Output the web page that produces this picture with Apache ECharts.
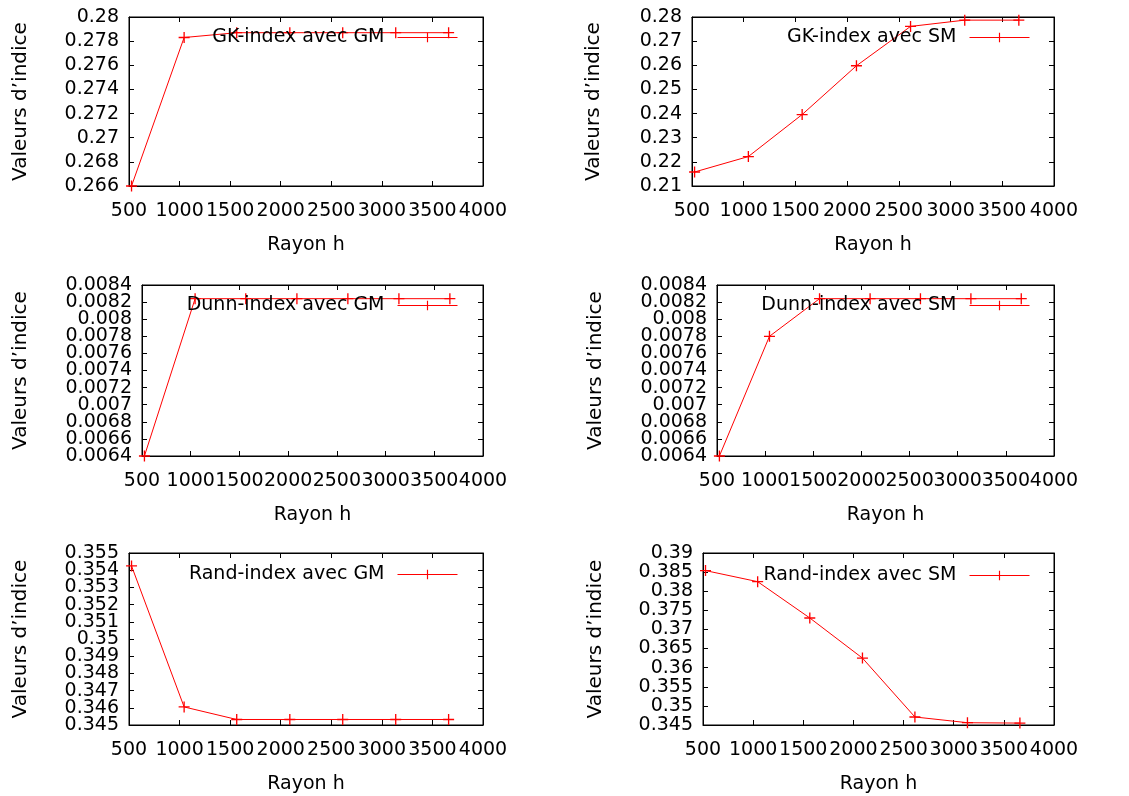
<!DOCTYPE html>
<html>
<head>
<meta charset="utf-8">
<script src="https://cdn.jsdelivr.net/npm/echarts@6/dist/echarts.min.js"></script>
<style>html,body{margin:0;padding:0;background:#fff}#c{width:1129px;height:796px}</style>
</head>
<body>
<div id="c"></div>
<script>
// ---- data ----
const xValues = [525, 1045, 1565, 2090, 2613, 3137, 3660];
const gkGM   = [0.2660, 0.2783, 0.2787, 0.2787, 0.2787, 0.2787, 0.2787];
const gkSM   = [0.2158, 0.2222, 0.2396, 0.2598, 0.2761, 0.2787, 0.2787];
const dunnGM = [0.00640, 0.00824, 0.00824, 0.00824, 0.00824, 0.00824, 0.00824];
const dunnSM = [0.00640, 0.00780, 0.00824, 0.00824, 0.00824, 0.00824, 0.00824];
const randGM = [0.35425, 0.34605, 0.34532, 0.34532, 0.34532, 0.34532, 0.34532];
const randSM = [0.3854, 0.3825, 0.3730, 0.3625, 0.3471, 0.3456, 0.3455];
const seriesNames = ['GK-index avec GM','GK-index avec SM','Dunn-index avec GM','Dunn-index avec SM','Rand-index avec GM','Rand-index avec SM'];
const seriesData = [gkGM, gkSM, dunnGM, dunnSM, randGM, randSM];
const xTicks = {min: 500, max: 4000, interval: 500};
const yRanges = [
  {min: 0.266, max: 0.28, interval: 0.002},
  {min: 0.21, max: 0.28, interval: 0.01},
  {min: 0.0064, max: 0.0084, interval: 0.0002},
  {min: 0.0064, max: 0.0084, interval: 0.0002},
  {min: 0.345, max: 0.355, interval: 0.001},
  {min: 0.345, max: 0.39, interval: 0.005}
];
const xTitle = 'Rayon h';
const yTitle = 'Valeurs d’indice';

// ---- layout ----
const grids = [
  {left: 129, top: 17, width: 354, height: 169, yGap: 98, legRight: 671, legTop: 28},
  {left: 692, top: 17, width: 362, height: 169, yGap: 88, legRight: 99, legTop: 28},
  {left: 142, top: 285, width: 341, height: 171, yGap: 111, legRight: 671, legTop: 296},
  {left: 717, top: 285, width: 337, height: 171, yGap: 111, legRight: 99, legTop: 296},
  {left: 129, top: 553, width: 354, height: 172, yGap: 98, legRight: 671, legTop: 565},
  {left: 703, top: 553, width: 351, height: 172, yGap: 97, legRight: 99, legTop: 566}
];
const FONT = "'DejaVu Sans', sans-serif";
const FS = 19;
const plus = 'path://M4.4,0 h1.2 v4.4 h4.4 v1.2 h-4.4 v4.4 h-1.2 v-4.4 h-4.4 v-1.2 h4.4 z';

const option = {
  animation: false,
  backgroundColor: '#fff',
  textStyle: {fontFamily: FONT, color: '#000'},
  grid: [], xAxis: [], yAxis: [], series: [], legend: []
};
const axLine = {show: true, lineStyle: {color: '#000', width: 1}};
const tick = {show: true, inside: true, length: 5, lineStyle: {color: '#000', width: 1}};
const nameStyle = {color: '#000', fontFamily: FONT};

// label-only axes: labels split by parity so neighbouring labels never collide
function labelAxes(gridIndex, position, range, margin) {
  const last = Math.round((range.max - range.min) / range.interval);
  return [0, 1].map(par => ({
    type: 'value', gridIndex, position, ...range,
    axisLine: {show: false}, axisTick: {show: false}, splitLine: {show: false},
    axisLabel: {fontSize: FS, color: '#000', fontFamily: FONT, margin,
      showMinLabel: par === 0, showMaxLabel: (last % 2) === par,
      formatter: (v, idx) => (idx % 2 === par ? String(+v.toPrecision(6)) : '')}
  }));
}

grids.forEach((g, i) => {
  option.grid.push({left: g.left, top: g.top, width: g.width, height: g.height,
    show: true, borderColor: '#000', borderWidth: 1, containLabel: false});
  // x axes: [ticks+name bottom, ticks top, labels even, labels odd]
  option.xAxis.push({type: 'value', gridIndex: i, position: 'bottom', ...xTicks,
    axisLine: axLine, axisTick: tick, splitLine: {show: false}, axisLabel: {show: false},
    name: xTitle, nameLocation: 'middle', nameGap: 50,
    nameTextStyle: {fontSize: FS, ...nameStyle}});
  option.xAxis.push({type: 'value', gridIndex: i, position: 'top', ...xTicks,
    axisLine: axLine, axisTick: tick, splitLine: {show: false}, axisLabel: {show: false}});
  option.xAxis.push(...labelAxes(i, 'bottom', xTicks, 16));
  // y axes: [ticks+name left, ticks right, labels even, labels odd]
  option.yAxis.push({type: 'value', gridIndex: i, position: 'left', ...yRanges[i],
    axisLine: axLine, axisTick: tick, splitLine: {show: false}, axisLabel: {show: false},
    name: yTitle, nameLocation: 'middle', nameGap: g.yGap, nameRotate: 90,
    nameTextStyle: {fontSize: 20, ...nameStyle}});
  option.yAxis.push({type: 'value', gridIndex: i, position: 'right', ...yRanges[i],
    axisLine: axLine, axisTick: tick, splitLine: {show: false}, axisLabel: {show: false}});
  option.yAxis.push(...labelAxes(i, 'left', yRanges[i], 10));

  option.series.push({
    name: seriesNames[i], type: 'line', xAxisIndex: 4 * i, yAxisIndex: 4 * i,
    data: xValues.map((x, k) => [x, seriesData[i][k]]),
    symbol: plus, symbolSize: 11, showAllSymbol: true,
    lineStyle: {color: '#ff0000', width: 1}, itemStyle: {color: '#ff0000', borderWidth: 0}
  });
  option.legend.push({data: [seriesNames[i]], right: g.legRight, top: g.legTop,
    align: 'right', orient: 'vertical', padding: 0, itemWidth: 60, itemHeight: 12,
    selectedMode: false, lineStyle: {width: 1, color: '#ff0000'},
    itemStyle: {color: '#ff0000', borderWidth: 0},
    textStyle: {fontSize: FS, color: '#000', fontFamily: FONT, padding: [0, 8, 0, 0]}});
});
echarts.init(document.getElementById('c'), null, {renderer: 'canvas'}).setOption(option);
</script>
</body>
</html>
